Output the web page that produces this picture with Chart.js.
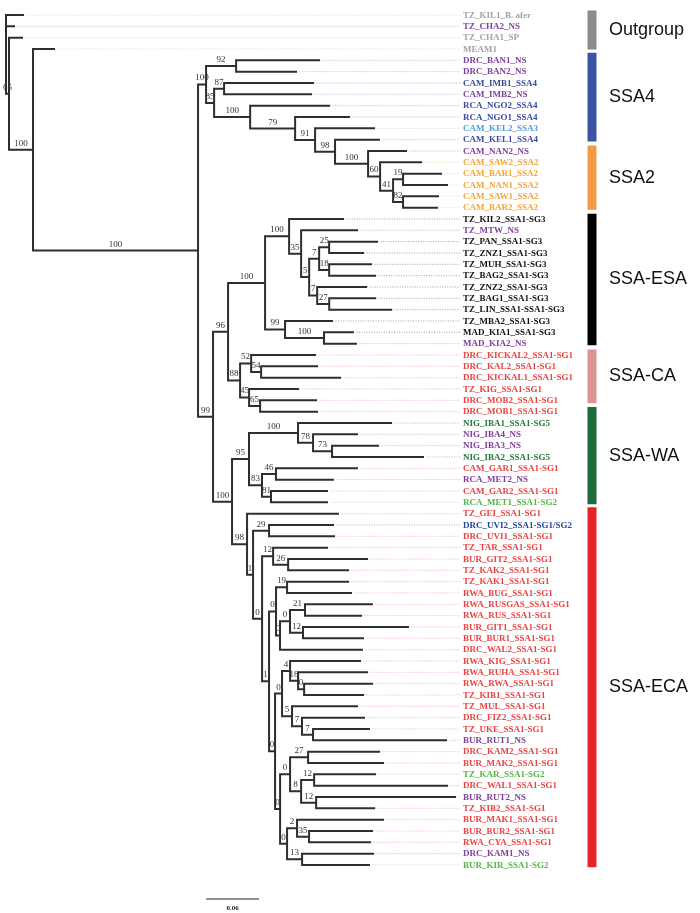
<!DOCTYPE html>
<html lang="en">
<head>
<meta charset="UTF-8">
<title>Phylogeny of SSA whitefly samples</title>
<script src="https://cdn.jsdelivr.net/npm/chart.js"></script>
<style>
  html, body { margin: 0; padding: 0; background: #fff; }
  #wrap { width: 700px; height: 913px; }
</style>
</head>
<body>
<div id="wrap"><canvas id="tree" width="700" height="913"></canvas></div>
<script>
// ---- tree data: Newick pieces, branch lengths in subst./site, node labels = bootstrap ----
const ssa2Clade = "(CAM_NAN2_NS:.0430,(CAM_SAW2_SSA2:.0464,((CAM_BAR1_SSA2:.0430,CAM_NAN1_SSA2:.0498)19:.0113,(CAM_SAW1_SSA2:.0396,CAM_BAR2_SSA2:.0385)82:.0113)41:.0147)60:.0136)100";
const ngoClade = "(RCA_NGO2_SSA4:.0894,(RCA_NGO1_SSA4:.0611,(CAM_KEL2_SSA3:.0668,(CAM_KEL1_SSA4:.0498," + ssa2Clade + ":.0374)98:.0226)91:.0226)79:.0509)100";
const ssa4Clade = "((DRC_BAN1_NS:.0940,DRC_BAN2_NS:.0679)92:.0340,((CAM_IMB1_SSA4:.1007,CAM_IMB2_NS:.0985)87:.0113," + ngoClade + ":.0408)85:.0091)100";

const esaClade = "((TZ_KIL2_SSA1-SG3:.0611,(TZ_MTW_NS:.0634,(((TZ_PAN_SSA1-SG3:.0543,TZ_ZNZ1_SSA1-SG3:.0385)25:.0113,(TZ_MUH_SSA1-SG3:.0475,TZ_BAG2_SSA1-SG3:.0521)18:.0113)7:.0113,"
  + "(TZ_ZNZ2_SSA1-SG3:.0555,(TZ_BAG1_SSA1-SG3:.0521,TZ_LIN_SSA1-SSA1-SG3:.0702)27:.0136)7:.0091)5:.0091)35:.0136)100:.0272,"
  + "(TZ_MBA2_SSA1-SG3:.0532,(MAD_KIA1_SSA1-SG3:.0328,MAD_KIA2_NS:.0362)100:.0441)99:.0226)100";
const caClade = "((DRC_KICKAL2_SSA1-SG1:.0724,(DRC_KAL2_SSA1-SG1:.0634,DRC_KICKAL1_SSA1-SG1:.0894)54:.0113)52:.0125,"
  + "(TZ_KIG_SSA1-SG1:.0555,(DRC_MOB2_SSA1-SG1:.0634,DRC_MOB1_SSA1-SG1:.0645)65:.0125)45:.0102)88";
const waClade = "((NIG_IBA1_SSA1-SG5:.1053,(NIG_IBA4_NS:.0498,(NIG_IBA3_NS:.0521,NIG_IBA2_SSA1-SG5:.1030)73:.0215)78:.0170)100:.0555,"
  + "((CAM_GAR1_SSA1-SG1:.0917,RCA_MET2_NS:.0645)46:.0158,(CAM_GAR2_SSA1-SG1:.0634,RCA_MET1_SSA1-SG2:.0634)81:.0102)83:.0147)95";

const ecaRus = "(((RWA_RUSGAS_SSA1-SG1:.0758,RWA_RUS_SSA1-SG1:.0634)21:.0170,(BUR_GIT1_SSA1-SG1:.1189,BUR_BUR1_SSA1-SG1:.0679)12:.0147)0:.0113,DRC_WAL2_SSA1-SG1:.0928)0";
const ecaKak = "((TZ_KAK1_SSA1-SG1:.0691,RWA_BUG_SSA1-SG1:.0724)19:.0125," + ecaRus + ":.0045)0";
const ecaRwa = "((RWA_KIG_SSA1-SG1:.0792,(RWA_RUHA_SSA1-SG1:.0781,(RWA_RWA_SSA1-SG1:.0770,TZ_KIB1_SSA1-SG1:.0668)0:.0068)18:.0091)4:.0091,"
  + "(TZ_MUL_SSA1-SG1:.0736,(DRC_FIZ2_SSA1-SG1:.0702,(TZ_UKE_SSA1-SG1:.0634,BUR_RUT1_NS:.1506)7:.0125)7:.0113)5:.0113)0";
const ecaKam = "((DRC_KAM2_SSA1-SG1:.0804,BUR_MAK2_SSA1-SG1:.0849)27:.0204,((TZ_KAR_SSA1-SG2:.0691,DRC_WAL1_SSA1-SG1:.1506)12:.0147,(BUR_RUT2_NS:.1573,TZ_KIB2_SSA1-SG1:.0657)12:.0170)8:.0125)0";
const ecaMak = "((BUR_MAK1_SSA1-SG1:.0974,(BUR_BUR2_SSA1-SG1:.0713,RWA_CYA_SSA1-SG1:.0691)35:.0136)2:.0113,(DRC_KAM1_NS:.0804,BUR_KIR_SSA1-SG2:.0758)13:.0170)0";
const ecaLow = "(" + ecaRwa + ":.0079,(" + ecaKam + ":.0113," + ecaMak + ":.0079)0:.0057)0";
const ecaTar = "(TZ_TAR_SSA1-SG1:.0611,(BUR_GIT2_SSA1-SG1:.0894,TZ_KAK2_SSA1-SG1:.0679)26:.0170)12";
const ecaClade = "(TZ_GEI_SSA1-SG1:.1030,((DRC_UVI2_SSA1-SG1/SG2:.0724,DRC_UVI1_SSA1-SG1:.0736)29:.0181,("
  + ecaTar + ":.0125,(" + ecaKak + ":.0079," + ecaLow + ":.0068)1:.0079)0:.0102)1:.0068)98";

const ssa1Clade = "((" + esaClade + ":.0419," + caClade + ":.0136)96:.0170,(" + waClade + ":.0192," + ecaClade + ":.0170)100:.0215)99";
const ingroup = "(" + ssa4Clade + ":.0091," + ssa1Clade + ":.0170)100";
const treeNewick = "('TZ_KIL1_B. afer':.0192,TZ_CHA2_NS:.0091,(TZ_CHA1_SP:.0147,(MEAM1:.0238," + ingroup + ":.1868)100:.0272)65:.0034);";

// clade bars on the right
const cladeNames = ["Outgroup", "SSA4", "SSA2", "SSA-ESA", "SSA-CA", "SSA-WA", "SSA-ECA"];
const cladeFirst = ["TZ_KIL1_B. afer", "DRC_BAN1_NS", "CAM_NAN2_NS", "TZ_KIL2_SSA1-SG3", "DRC_KICKAL2_SSA1-SG1", "NIG_IBA1_SSA1-SG5", "TZ_GEI_SSA1-SG1"];
const cladeLast = ["MEAM1", "CAM_KEL1_SSA4", "CAM_BAR2_SSA2", "MAD_KIA2_NS", "DRC_MOB1_SSA1-SG1", "RCA_MET1_SSA1-SG2", "BUR_KIR_SSA1-SG2"];
const cladeColors = ["#8c8c8c", "#3a55a6", "#f49a45", "#000000", "#d99494", "#1d6a3a", "#e8242b"];

const scaleBarLen = 0.06;

// ---- parse + layout ----
function parseNewick(s) {
  let i = 0;
  function readToken() {
    if (s[i] === "'") {
      const j = s.indexOf("'", i + 1);
      const t = s.slice(i + 1, j);
      i = j + 1;
      return t;
    }
    let j = i;
    while (j < s.length && !",():;".includes(s[j])) j++;
    const t = s.slice(i, j);
    i = j;
    return t;
  }
  function node() {
    const n = { children: [] };
    if (s[i] === "(") {
      i++;
      n.children.push(node());
      while (s[i] === ",") { i++; n.children.push(node()); }
      i++;
      n.support = readToken();
    } else {
      n.name = readToken();
    }
    n.len = 0;
    if (s[i] === ":") { i++; n.len = parseFloat(readToken()); }
    n.children.forEach(c => c.parent = n);
    return n;
  }
  return node();
}

const root = parseNewick(treeNewick);
const leaves = [];
const inner = [];
function layout(n, depth) {
  n.depth = depth;
  if (!n.children.length) {
    n.y = leaves.length;
    leaves.push(n);
    return;
  }
  inner.push(n);
  n.children.forEach(c => layout(c, depth + c.len));
  n.y = (n.children[0].y + n.children[n.children.length - 1].y) / 2;
}
layout(root, 0);

// pixel frame (layout only)
const W = 700, H = 913;
const ROOT_PX = 6, BAR_PX = 53, TOP_PX = 15, ROW_PX = 11.333;
const unitPerPx = scaleBarLen / BAR_PX;
const xMin = -ROOT_PX * unitPerPx, xMax = xMin + W * unitPerPx;
const yMin = -TOP_PX / ROW_PX, yMax = (H - TOP_PX) / ROW_PX;
const xAt = px => xMin + px * unitPerPx;
const yAt = py => yMin + py / ROW_PX;
const LABEL_PX = 463, GUIDE_END_PX = 460, CLADE_BAR_PX = 592, CLADE_TEXT_PX = 609;
// how far each coloured bar reaches beyond its first / last row (in rows)
const BAR_PAD_TOP = [0.4, 0.67, 0.48, 0.47, 0.49, 1.4, 0.56];
const BAR_PAD_BOTTOM = [0.05, 0.16, 0.18, 0.15, -0.75, 0.16, 0.2];

function tipColor(name) {
  if (name.startsWith("TZ_KIL1") || name.endsWith("_SP") || name === "MEAM1") return "#a3a3a3";
  if (name.endsWith("_NS")) return "#80409c";
  if (name.endsWith("SG1/SG2")) return "#24489c";
  if (name.endsWith("_SSA3")) return "#4d9fd8";
  if (name.endsWith("_SSA4")) return "#3c4b9f";
  if (name.endsWith("_SSA2")) return "#f6a43a";
  if (name.endsWith("SG3")) return "#111111";
  if (name.endsWith("SG5")) return "#207a3a";
  if (name.endsWith("SG2")) return "#58b548";
  return "#ea4343";
}

// branch segments
const branchData = [];
inner.forEach(n => {
  const a = n.children[0], b = n.children[n.children.length - 1];
  branchData.push({ x: n.depth, y: a.y }, { x: n.depth, y: b.y }, { x: n.depth, y: null });
  n.children.forEach(c => {
    branchData.push({ x: n.depth, y: c.y }, { x: c.depth, y: c.y }, { x: c.depth, y: null });
  });
});

// dotted guides, grouped by colour
const guideGroups = {};
leaves.forEach(l => {
  const col = tipColor(l.name);
  (guideGroups[col] = guideGroups[col] || []).push({ x: l.depth + 0.004, y: l.y }, { x: xAt(GUIDE_END_PX), y: l.y }, { x: 0, y: null });
});
const guideSets = Object.keys(guideGroups).map(col => ({
  data: guideGroups[col], showLine: true, borderColor: col + "66", borderWidth: 1,
  borderDash: [1, 1.5], pointRadius: 0, spanGaps: false
}));

const leafIndex = name => leaves.findIndex(l => l.name === name);
const barTop = k => leafIndex(cladeFirst[k]) - BAR_PAD_TOP[k];
const barBottom = k => leafIndex(cladeLast[k]) + BAR_PAD_BOTTOM[k];
const cladeSets = cladeNames.map((c, k) => ({
  data: [{ x: xAt(CLADE_BAR_PX), y: barTop(k) }, { x: xAt(CLADE_BAR_PX), y: barBottom(k) }],
  showLine: true, borderColor: cladeColors[k], borderWidth: 9, borderCapStyle: "butt", pointRadius: 0
}));

const scaleY = yAt(899);
const scaleSet = {
  data: [{ x: xAt(206), y: scaleY }, { x: xAt(206) + scaleBarLen, y: scaleY }],
  showLine: true, borderColor: "#222", borderWidth: 1, pointRadius: 0
};

const textPlugin = {
  id: "treeText",
  afterDatasetsDraw(chart) {
    const { ctx, scales: { x, y } } = chart;
    ctx.save();
    // tip names
    ctx.font = 'bold 9px "Liberation Serif", serif';
    ctx.textAlign = "left";
    ctx.textBaseline = "middle";
    leaves.forEach(l => {
      ctx.fillStyle = tipColor(l.name);
      ctx.fillText(l.name, LABEL_PX, y.getPixelForValue(l.y) + 0.5);
    });
    // bootstrap values
    ctx.font = '9px "Liberation Serif", serif';
    ctx.fillStyle = "#333";
    ctx.textAlign = "center";
    ctx.textBaseline = "alphabetic";
    inner.forEach(n => {
      if (!n.parent || n.support === "") return;
      const px = (x.getPixelForValue(n.parent.depth) + x.getPixelForValue(n.depth)) / 2;
      ctx.fillText(n.support, px, y.getPixelForValue(n.y) - 4);
    });
    // clade names
    ctx.font = '18px "Liberation Sans", Arial, sans-serif';
    ctx.fillStyle = "#111";
    ctx.textAlign = "left";
    ctx.textBaseline = "middle";
    cladeNames.forEach((c, k) => {
      ctx.fillText(c, CLADE_TEXT_PX, y.getPixelForValue((barTop(k) + barBottom(k)) / 2));
    });
    // scale label
    ctx.font = 'bold 7px "Liberation Serif", serif';
    ctx.fillStyle = "#222";
    ctx.textAlign = "center";
    ctx.fillText(String(scaleBarLen), (x.getPixelForValue(xAt(206)) + x.getPixelForValue(xAt(206) + scaleBarLen)) / 2, 908);
    ctx.restore();
  }
};

new Chart(document.getElementById("tree"), {
  type: "scatter",
  data: {
    datasets: [
      ...guideSets,
      { data: branchData, showLine: true, borderColor: "#2e2e2e", borderWidth: 2, borderCapStyle: "square", pointRadius: 0, spanGaps: false },
      ...cladeSets,
      scaleSet
    ]
  },
  options: {
    responsive: false,
    animation: false,
    devicePixelRatio: 1,
    layout: { padding: 0 },
    plugins: { legend: { display: false }, tooltip: { enabled: false } },
    scales: {
      x: { type: "linear", display: false, min: xMin, max: xMax },
      y: { type: "linear", display: false, min: yMin, max: yMax, reverse: true }
    }
  },
  plugins: [textPlugin]
});
</script>
</body>
</html>
